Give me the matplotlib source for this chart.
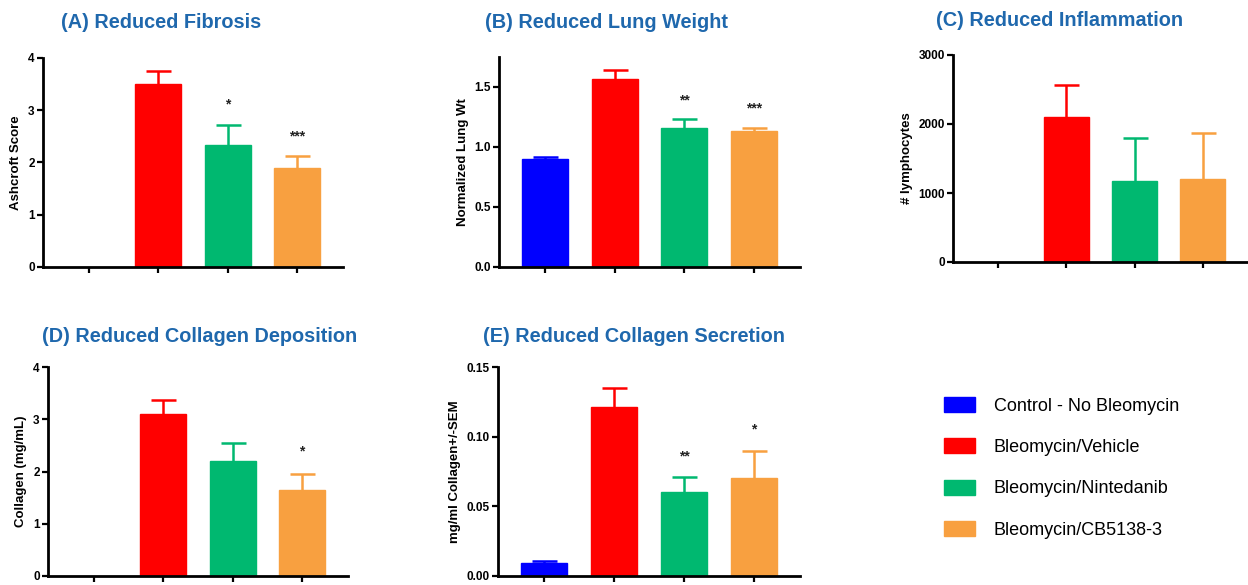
import matplotlib.pyplot as plt
from matplotlib.patches import Patch

plt.rcParams['font.family'] = ['Liberation Sans', 'DejaVu Sans']

groups = ['Control - No Bleomycin', 'Bleomycin/Vehicle', 'Bleomycin/Nintedanib', 'Bleomycin/CB5138-3']
colors = ['#0000ff', '#ff0000', '#00b870', '#f8a040']
title_color = '#1f68ad'

# (A) fibrosis - no control bar
fib_mean = [None, 3.5, 2.33, 1.9]
fib_err = [None, 0.25, 0.39, 0.22]
fib_sig = ['', '', '*', '***']

# (B) lung weight
lung_mean = [0.9, 1.57, 1.16, 1.13]
lung_err = [0.02, 0.07, 0.07, 0.03]
lung_sig = ['', '', '**', '***']

# (C) lymphocytes
lym_mean = [None, 2100, 1170, 1200]
lym_err = [None, 460, 630, 670]
lym_sig = ['', '', '', '']

# (D) collagen deposition
dep_mean = [None, 3.1, 2.2, 1.65]
dep_err = [None, 0.27, 0.35, 0.3]
dep_sig = ['', '', '', '*']

# (E) collagen secretion
sec_mean = [0.009, 0.121, 0.06, 0.07]
sec_err = [0.0015, 0.014, 0.011, 0.02]
sec_sig = ['', '', '**', '*']

W, H = 1248, 585
fig = plt.figure(figsize=(W / 100, H / 100), dpi=100)


def px_axes(left, top, right, bottom):
    return fig.add_axes([left / W, 1 - bottom / H, (right - left) / W, (bottom - top) / H])


def panel(ax, means, errs, sig, ylim, yticks, ticklabels, ylabel, sig_off):
    x = range(len(groups))
    for i in x:
        if means[i] is None:
            continue
        ax.bar(i, means[i], width=0.66, color=colors[i], edgecolor=colors[i], zorder=2)
        eb = ax.errorbar(i, means[i], yerr=[[0], [errs[i]]], color=colors[i], capsize=9,
                         capthick=1.8, elinewidth=1.8, zorder=1)
        # only keep the upper cap
        eb[1][0].set_visible(False)
        if sig[i]:
            ax.text(i, means[i] + errs[i] + sig_off, sig[i], ha='center', va='bottom',
                    fontsize=10, fontweight='bold', color='#222222')
    ax.set_xlim(-0.66, 3.66)
    ax.set_ylim(*ylim)
    ax.set_yticks(yticks)
    ax.set_yticklabels(ticklabels, fontsize=8.5, fontweight='bold')
    ax.set_xticks(list(x))
    ax.set_xticklabels([])
    ax.set_ylabel(ylabel, fontsize=9.5, fontweight='bold')
    ax.spines['top'].set_visible(False)
    ax.spines['right'].set_visible(False)
    ax.spines['left'].set_linewidth(2)
    ax.spines['bottom'].set_linewidth(2)
    ax.tick_params(axis='both', width=1.6, length=4, pad=2)


axA = px_axes(43, 58, 343, 267)
panel(axA, fib_mean, fib_err, fib_sig, (0, 4), [0, 1, 2, 3, 4], ['0', '1', '2', '3', '4'],
      'Ashcroft Score', 0.25)

axB = px_axes(499, 57, 800, 267)
panel(axB, lung_mean, lung_err, lung_sig, (0, 1.75), [0, 0.5, 1.0, 1.5],
      ['0.0', '0.5', '1.0', '1.5'], 'Normalized Lung Wt', 0.1)

axC = px_axes(953, 55, 1248, 262)
panel(axC, lym_mean, lym_err, lym_sig, (0, 3000), [0, 1000, 2000, 3000],
      ['0', '1000', '2000', '3000'], '# lymphocytes', 100)

axD = px_axes(48, 367, 348, 576)
panel(axD, dep_mean, dep_err, dep_sig, (0, 4), [0, 1, 2, 3, 4], ['0', '1', '2', '3', '4'],
      'Collagen (mg/mL)', 0.3)

axE = px_axes(498, 367, 800, 576)
panel(axE, sec_mean, sec_err, sec_sig, (0, 0.15), [0, 0.05, 0.10, 0.15],
      ['0.00', '0.05', '0.10', '0.15'], 'mg/ml Collagen+/-SEM', 0.01)

titles = ['(A) Reduced Fibrosis', '(B) Reduced Lung Weight', '(C) Reduced Inflammation',
          '(D) Reduced Collagen Deposition', '(E) Reduced Collagen Secretion']
title_pos = [(61, 23), (485, 23), (936, 20), (42, 336), (483, 336)]
for t, (tx, ty) in zip(titles, title_pos):
    fig.text(tx / W, 1 - ty / H, t, ha='left', va='center', fontsize=14.3,
             fontweight='bold', color=title_color)

handles = [Patch(facecolor=c, edgecolor=c) for c in colors]
fig.legend(handles, groups, loc='upper left', bbox_to_anchor=(928 / W, 1 - 381 / H),
           frameon=False, fontsize=13, handlelength=1.7, handleheight=0.9,
           labelspacing=1.3, handletextpad=1.05)

fig.savefig('out.png', dpi=100)
